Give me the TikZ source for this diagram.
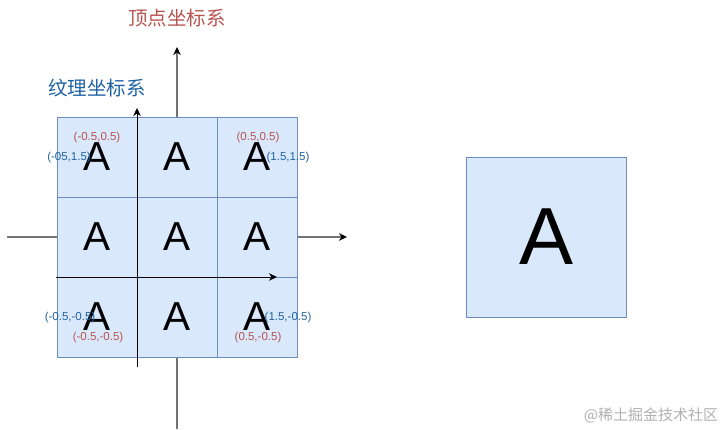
\documentclass[tikz,border=0pt]{standalone}
\usepackage{fontspec}
\setmainfont{Liberation Sans}
\newfontfamily\cjk{Noto Sans CJK SC}
\usetikzlibrary{arrows.meta, positioning}
\definecolor{cellfill}{HTML}{DAE8FC}
\definecolor{cellline}{HTML}{6C8EBF}
\definecolor{vtxred}{HTML}{B85450}
\definecolor{texblue}{HTML}{1F62A3}
\definecolor{axisgray}{HTML}{747474}
\definecolor{marktxt}{HTML}{B0B0B0}

\begin{document}
\begin{tikzpicture}[
  x=1pt, y=-1pt,
  cell/.style={draw=cellline, line width=0.8pt, fill=cellfill, minimum size=80pt,
           inner sep=0pt, font=\fontsize{40.5}{40}\selectfont},
  bigcell/.style={cell, minimum size=160pt, font=\fontsize{81}{81}\selectfont},
  vaxis/.style={-{Stealth[length=8pt, width=7.5pt, inset=2.5pt, color=black]}, line width=1.6pt, color=axisgray},
  taxis/.style={-{Stealth[length=8pt, width=7.5pt, inset=2.5pt]}, line width=1pt, color=black},
  vlab/.style={text=vtxred, font=\fontsize{11.5}{12}\selectfont, inner sep=0pt},
  tlab/.style={text=texblue, font=\fontsize{11.5}{12}\selectfont, inner sep=0pt},
  sys/.style={font=\cjk\fontsize{19.5}{20}\selectfont, inner sep=0pt}
]
  \useasboundingbox (0,0) rectangle (725,429);

  \coordinate (vb) at (177,429);
  \coordinate (vt) at (177,47);
  \coordinate (vl) at (7,237);
  \coordinate (vr) at (347,237);
  \draw[vaxis] (vb) -- (vt);
  \draw[vaxis] (vl) -- (vr);

  \foreach \r in {1,2,3}
    \foreach \c in {1,2,3}
      \node[cell] (c\r\c) at ({17+80*\c},{77+80*\r}) {A};

  \coordinate (tb) at (137,367);
  \coordinate (tt) at (137,108);
  \coordinate (tl) at (56,277);
  \coordinate (tr) at (277,277);
  \draw[taxis] (tb) -- (tt);
  \draw[taxis] (tl) -- (tr);

  \node[sys, text=vtxred]  (vsys) at (177,18) {顶点坐标系};
  \node[sys, text=texblue] (tsys) at (97,88)  {纹理坐标系};

  \node[vlab] (v1) at (97,138)  {(-0.5,0.5)};
  \node[vlab] (v2) at (258,138) {(0.5,0.5)};
  \node[vlab] (v3) at (98,338)  {(-0.5,-0.5)};
  \node[vlab] (v4) at (258,338) {(0.5,-0.5)};

  \node[tlab] (t1) at (69,158)  {(-05,1.5)};
  \node[tlab] (t2) at (288,158) {(1.5,1.5)};
  \node[tlab] (t3) at (70,318)  {(-0.5,-0.5)};
  \node[tlab] (t4) at (288,318) {(1.5,-0.5)};

  \node[bigcell] (tex) at (546.5,237) {A};

  \node[text=marktxt, font=\cjk\fontsize{15}{15}\selectfont, inner sep=0pt] (mark) at (651,415) {@稀土掘金技术社区};
\end{tikzpicture}
\end{document}
